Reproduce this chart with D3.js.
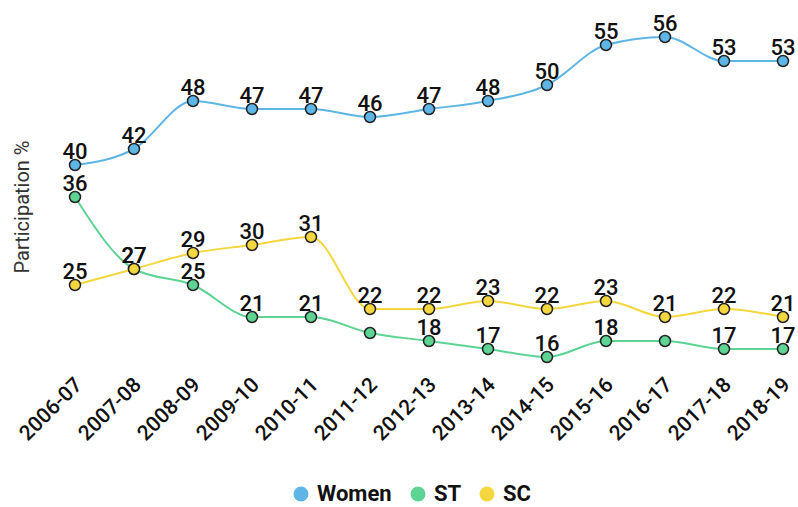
<!DOCTYPE html>
<html><head><meta charset="utf-8">
<script src="https://cdn.jsdelivr.net/npm/d3@7/dist/d3.min.js"></script>
<style>body{margin:0;background:#fff}svg{display:block;font-family:Roboto,sans-serif}</style>
</head><body><svg id="c" width="798" height="507"></svg>
<script>
const years = ["2006-07","2007-08","2008-09","2009-10","2010-11","2011-12","2012-13","2013-14","2014-15","2015-16","2016-17","2017-18","2018-19"];
const women = [40,42,48,47,47,46,47,48,50,55,56,53,53];
const st = [36,27,25,21,21,19,18,17,16,18,18,17,17];
const sc = [25,27,29,30,31,22,22,23,22,23,21,22,21];
const seriesNames = ["Women","ST","SC"];
const colors = ["#5DB6E6","#5DD394","#F4D63E"];

const svg = d3.select("#c");
const x = d3.scalePoint().domain(years).range([75,783]);
const y = d3.scaleLinear().domain([16,56]).range([357,37]);
const series = [women, st, sc].map((v,i)=>({name:seriesNames[i], color:colors[i], values:v}));
const R = 5.5, FS = 22, OFF = 6;

// y axis title
svg.append("text").attr("transform","translate(29,207) rotate(-90)")
  .attr("text-anchor","middle").attr("font-size",20).attr("fill","#333").text("Participation %");

// x axis labels
const xa = svg.append("g").attr("transform","translate(0,386)")
  .call(d3.axisBottom(x).tickSize(0).tickPadding(0));
xa.select(".domain").remove();
xa.selectAll("text").attr("transform","translate(8,0) rotate(-45)")
  .attr("text-anchor","end").attr("dy",0).attr("y",0).attr("x",0)
  .attr("font-size",21).attr("font-weight",500).attr("fill","#111").attr("font-family","Roboto");

const line = d3.line().x((d,i)=>x(years[i])).y(d=>y(d)).curve(d3.curveMonotoneX);
const g = svg.append("g");
series.forEach(s=>{
  g.append("path").attr("d",line(s.values)).attr("fill","none").attr("stroke",s.color).attr("stroke-width",2);
});
series.forEach(s=>{
  g.selectAll(null).data(s.values).join("circle")
    .attr("cx",(d,i)=>x(years[i])).attr("cy",d=>y(d)).attr("r",R)
    .attr("fill",s.color).attr("stroke","#222").attr("stroke-width",1.5);
});
// labels, hidden when they would cover another series' marker
series.forEach((s,si)=>{
  s.values.forEach((d,i)=>{
    const lx = x(years[i]), base = y(d)-OFF, top = base-0.71*FS;
    const half = String(d).length*0.28*FS;
    const covers = series.some((o,oi)=>{
      if(oi===si) return false;
      const cx = x(years[i]), cy = y(o.values[i]);
      return cy+5 > top && cy-5 < base && cx+5 > lx-half && cx-5 < lx+half;
    });
    if(covers) return;
    g.append("text").attr("x",lx).attr("y",base)
      .attr("text-anchor","middle").attr("font-size",FS).attr("font-weight",500).attr("fill","#111")
      .text(d);
  });
});

// legend
const leg = svg.append("g");
const legX = [301,418,487];
series.forEach((s,i)=>{
  leg.append("circle").attr("cx",legX[i]).attr("cy",494).attr("r",7.5).attr("fill",s.color);
  leg.append("text").attr("x",legX[i]+16).attr("y",501).attr("font-size",22).attr("font-weight",700)
    .attr("fill","#111").text(s.name);
});
</script></body></html>
